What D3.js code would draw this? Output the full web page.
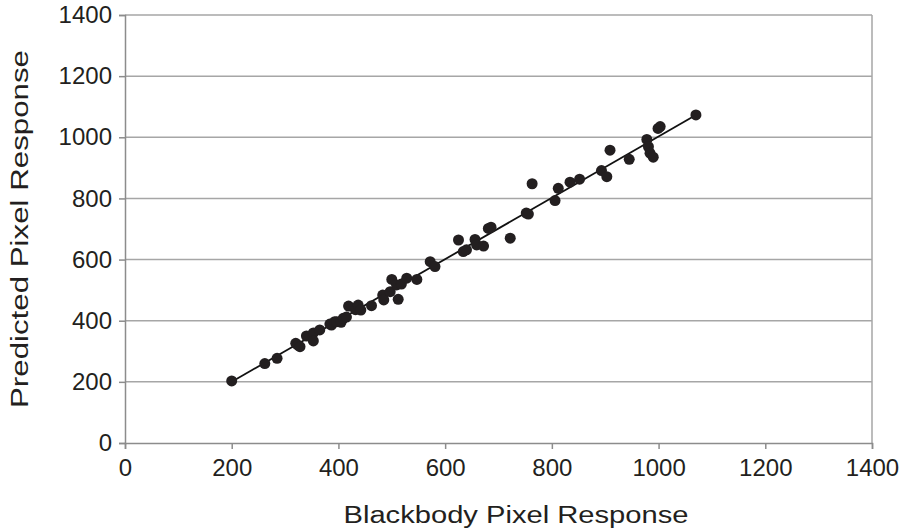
<!DOCTYPE html>
<html>
<head>
<meta charset="utf-8">
<script src="https://cdn.jsdelivr.net/npm/d3@7"></script>
<style>
  html, body { margin: 0; padding: 0; background: #fff; }
  svg { display: block; font-family: "Liberation Sans", Arial, sans-serif; }
</style>
</head>
<body>
<svg id="chart" width="904" height="531"></svg>
<script>
// Blackbody response (x) vs predicted response (y)
const blackbody = [200, 262, 285, 320, 324, 328, 340, 353, 353, 365, 384, 387, 393, 397, 405, 409,
  415, 419, 432, 437, 442, 462, 483, 485, 497, 500, 509, 512, 518, 528, 547, 572, 581, 625, 634,
  640, 656, 659, 672, 681, 686, 722, 752, 756, 763, 806, 812, 834, 852, 893, 903, 909, 945, 978,
  981, 984, 990, 999, 1003, 1070];
const predicted = [203, 260, 277, 326, 320, 315, 350, 360, 334, 370, 389, 386, 397, 397, 395, 408,
  412, 448, 436, 451, 435, 449, 484, 468, 495, 535, 517, 470, 520, 539, 535, 593, 577, 664, 626,
  632, 666, 648, 644, 702, 706, 670, 752, 749, 848, 793, 833, 853, 863, 891, 871, 958, 928, 993,
  969, 948, 935, 1029, 1035, 1073];
const ticks = [0, 200, 400, 600, 800, 1000, 1200, 1400];

const svg = d3.select('#chart');
const margin = { top: 15, right: 32, bottom: 88, left: 125 };
const width = 904 - margin.left - margin.right;
const height = 531 - margin.top - margin.bottom;

const x = d3.scaleLinear().domain([0, 1400]).range([0, width]);
const y = d3.scaleLinear().domain([0, 1400]).range([height, 0]);

const g = svg.append('g').attr('transform', `translate(${margin.left},${margin.top})`);

// gridlines
g.append('g')
  .selectAll('line')
  .data(ticks.slice(1))
  .join('line')
  .attr('x1', 0).attr('x2', width)
  .attr('y1', (d) => y(d)).attr('y2', (d) => y(d))
  .attr('stroke', '#a6a6a6')
  .attr('stroke-width', 1.5);

// right border of plot area
g.append('line')
  .attr('x1', width).attr('x2', width)
  .attr('y1', 0).attr('y2', height)
  .attr('stroke', '#a6a6a6')
  .attr('stroke-width', 1.5);

// axes
const xAxis = g.append('g')
  .attr('transform', `translate(0,${height})`)
  .call(d3.axisBottom(x).tickValues(ticks).tickSize(6).tickPadding(10).tickFormat(d3.format('d')));
const yAxis = g.append('g')
  .call(d3.axisLeft(y).tickValues(ticks).tickSize(6).tickPadding(7).tickFormat(d3.format('d')));

for (const ax of [xAxis, yAxis]) {
  ax.select('.domain').attr('stroke', '#8c8c8c').attr('stroke-width', 1.5);
  ax.selectAll('.tick line').attr('stroke', '#8c8c8c').attr('stroke-width', 1.5);
  ax.selectAll('.tick text')
    .attr('fill', '#231f20')
    .style('font-size', '24px')
    .style('font-family', '"Liberation Sans", Arial, sans-serif');
}

// least-squares trendline over the data range
const pts = blackbody.map((v, i) => ({ bx: v, py: predicted[i] }));
const mx = d3.mean(pts, (d) => d.bx);
const my = d3.mean(pts, (d) => d.py);
const slope = d3.sum(pts, (d) => (d.bx - mx) * (d.py - my)) / d3.sum(pts, (d) => (d.bx - mx) ** 2);
const icpt = my - slope * mx;
const [xmin, xmax] = d3.extent(blackbody);

g.append('line')
  .attr('x1', x(xmin)).attr('y1', y(icpt + slope * xmin))
  .attr('x2', x(xmax)).attr('y2', y(icpt + slope * xmax))
  .attr('stroke', '#111')
  .attr('stroke-width', 1.8);

// points
g.append('g')
  .selectAll('circle')
  .data(pts)
  .join('circle')
  .attr('cx', (d) => x(d.bx))
  .attr('cy', (d) => y(d.py))
  .attr('r', 5.5)
  .attr('fill', '#231f20');

// axis titles
svg.append('text')
  .attr('x', 516)
  .attr('y', 523)
  .attr('text-anchor', 'middle')
  .attr('fill', '#231f20')
  .attr('textLength', 345)
  .attr('lengthAdjust', 'spacingAndGlyphs')
  .style('font-size', '23px')
  .text('Blackbody Pixel Response');

svg.append('text')
  .attr('transform', `translate(28,${margin.top + height / 2}) rotate(-90)`)
  .attr('text-anchor', 'middle')
  .attr('fill', '#231f20')
  .attr('textLength', 358)
  .attr('lengthAdjust', 'spacingAndGlyphs')
  .style('font-size', '23px')
  .text('Predicted Pixel Response');
</script>
</body>
</html>
